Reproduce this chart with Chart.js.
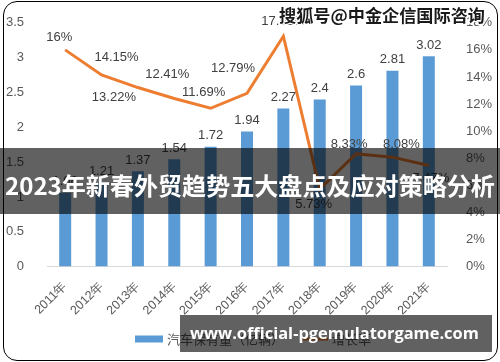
<!DOCTYPE html>
<html><head><meta charset="utf-8">
<script src="https://cdn.jsdelivr.net/npm/chart.js@4.4.0/dist/chart.umd.min.js"></script>
<style>
html,body{margin:0;padding:0;background:#fff;}
#wrap{position:relative;width:500px;height:362px;overflow:hidden;background:#fff;}
#c{position:absolute;left:0;top:0;}
#frame{position:absolute;left:3px;top:1px;width:495px;height:360px;border:1.5px solid #000;border-radius:14px;box-sizing:border-box;pointer-events:none;}
#banner{position:absolute;left:0;top:148px;width:500px;height:66px;background:rgba(0,0,0,0.62);}
#bannerText{position:absolute;left:5px;top:170px;color:#fff;font-family:"Noto Sans CJK SC";font-weight:bold;font-size:25.5px;line-height:30px;white-space:nowrap;}
#site{position:absolute;left:180px;top:315px;width:312px;height:37px;background:rgba(0,0,0,0.62);}
#siteText{position:absolute;left:190px;top:322px;color:#fff;font-family:"Open Sans";font-weight:bold;font-size:17px;line-height:22px;white-space:nowrap;}
#wm{position:absolute;left:279px;top:5px;color:#1a1a1a;font-family:"Noto Sans CJK SC";font-weight:bold;font-size:17px;line-height:20px;white-space:nowrap;
text-shadow:1px 0 0 #fff,-1px 0 0 #fff,0 1px 0 #fff,0 -1px 0 #fff,1px 1px 0 #fff,-1px -1px 0 #fff,1px -1px 0 #fff,-1px 1px 0 #fff;}
</style>
</head><body>
<div id="wrap">
<canvas id="c" width="500" height="362"></canvas>
<div id="frame"></div>
<div id="wm">搜狐号@中金企信国际咨询</div>
<div id="banner"></div>
<div id="bannerText">2023年新春外贸趋势五大盘点及应对策略分析</div>
<div id="site"></div>
<div id="siteText">www.official-pgemulatorgame.com</div>
</div>
<script>
const categories = ['2011年','2012年','2013年','2014年','2015年','2016年','2017年','2018年','2019年','2020年','2021年'];
const ownership = [1.06, 1.21, 1.37, 1.54, 1.72, 1.94, 2.27, 2.4, 2.6, 2.81, 3.02];
const growth = [16, 14.15, 13.22, 12.41, 11.69, 12.79, 17.01, 5.73, 8.33, 8.08, 7.47];
const growthLabels = ['16%','14.15%','13.22%','12.41%','11.69%','12.79%','17.01%','5.73%','8.33%','8.08%','7.47%'];
const seriesNames = ['汽车保有量（亿辆）', '增长率'];
const leftAxis = {min: 0, max: 3.5, step: 0.5};
const rightAxis = {min: 0, max: 18, step: 2};

const BLUE = '#5B9BD5', ORANGE = '#ED7D31';
const LABEL_FONT = '13px "Liberation Sans"';

function fitWidth(id, target){
  const el = document.getElementById(id);
  const size = parseFloat(getComputedStyle(el).fontSize);
  const w = el.getBoundingClientRect().width;
  el.style.fontSize = (size * target / w).toFixed(2) + 'px';
}
fitWidth('siteText', 289);
fitWidth('bannerText', 490);
fitWidth('wm', 206);

const lineLabelOffsets = [[-6,-12],[15,-18],[-24,10],[-7,-24],[-7,-16],[-14,-25],[0,-15],[-6,15],[-7,-9],[9,-13],[2,13]];

const labelPlugin = {
  id: 'labels',
  afterDatasetsDraw(chart){
    const ctx = chart.ctx;
    ctx.save();
    ctx.font = LABEL_FONT;
    ctx.fillStyle = '#404040';
    ctx.textAlign = 'center';
    ctx.textBaseline = 'middle';
    chart.getDatasetMeta(1).data.forEach((el, i) => {
      ctx.fillText(String(ownership[i]), el.x, el.y - 11);
    });
    chart.getDatasetMeta(0).data.forEach((el, i) => {
      const o = lineLabelOffsets[i];
      ctx.fillText(growthLabels[i], el.x + o[0], el.y + o[1]);
    });
    ctx.restore();
  },
  afterDraw(chart){
    const ctx = chart.ctx;
    ctx.save();
    ctx.font = '13px "Noto Sans CJK SC"';
    ctx.textBaseline = 'middle';
    ctx.textAlign = 'left';
    const y = 339;
    let x = 135;
    ctx.fillStyle = BLUE;
    ctx.fillRect(x, y - 3.5, 28, 7);
    ctx.fillStyle = '#595959';
    ctx.fillText(chart.data.datasets[1].label, x + 32, y);
    x = x + 32 + ctx.measureText(chart.data.datasets[1].label).width + 16;
    ctx.strokeStyle = ORANGE; ctx.lineWidth = 3;
    ctx.beginPath(); ctx.moveTo(x, y); ctx.lineTo(x + 28, y); ctx.stroke();
    ctx.fillText(chart.data.datasets[0].label, x + 32, y);
    ctx.restore();
  }
};

new Chart(document.getElementById('c'), {
  data: {
    labels: categories,
    datasets: [
      {type:'line', label: seriesNames[1], data: growth, yAxisID:'y1', borderColor: ORANGE, borderWidth: 3, pointRadius: 0, tension: 0, order: 0},
      {type:'bar', label: seriesNames[0], data: ownership, yAxisID:'y', backgroundColor: BLUE, categoryPercentage: 1, barPercentage: 0.33, order: 1}
    ]
  },
  options: {
    responsive: false,
    animation: false,
    devicePixelRatio: 1,
    layout: {padding: {top: 16, bottom: 0, left: 0, right: 0}},
    plugins: {legend: {display: false}, tooltip: {enabled: false}},
    scales: {
      x: {
        grid: {display: false},
        border: {display: true, color: '#d9d9d9', width: 1},
        ticks: {minRotation: 45, maxRotation: 45, font: {size: 12.5, family: '"Liberation Sans"'}, color: '#595959', padding: 4},
        afterFit(s){ s.height = 95.4; }
      },
      y: {
        position: 'left', min: leftAxis.min, max: leftAxis.max,
        grid: {display: false}, border: {display: false},
        ticks: {stepSize: leftAxis.step, font: {size: 13, family: '"Liberation Sans"'}, color: '#595959', padding: 15, callback: v => String(Number(v.toFixed(1)))},
        afterFit(s){ s.width = 47; }
      },
      y1: {
        position: 'right', min: rightAxis.min, max: rightAxis.max,
        grid: {display: false}, border: {display: false},
        ticks: {stepSize: rightAxis.step, font: {size: 13, family: '"Liberation Sans"'}, color: '#595959', padding: 11, callback: v => v + '%'},
        afterFit(s){ s.width = 53; }
      }
    }
  },
  plugins: [labelPlugin]
});
</script>
</body></html>
